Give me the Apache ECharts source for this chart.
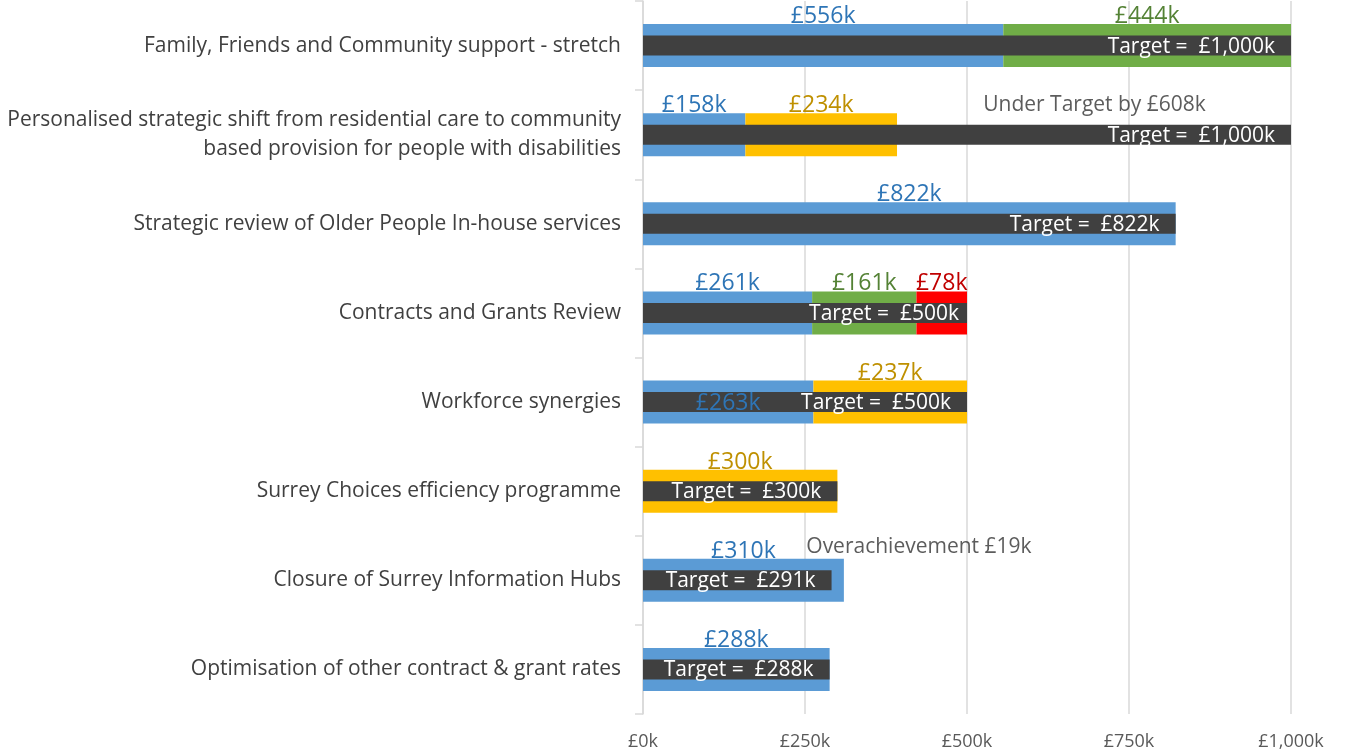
<!DOCTYPE html>
<html>
<head>
<meta charset="utf-8">
<script src="https://cdn.jsdelivr.net/npm/echarts@6/dist/echarts.min.js"></script>
<style>
  html, body { margin: 0; padding: 0; background: #fff; }
  #chart { width: 1368px; height: 753px; }
</style>
</head>
<body>
<div id="chart"></div>
<script>
const categories = [
    'Family, Friends and Community support - stretch',
    'Personalised strategic shift from residential care to community\nbased provision for people with disabilities',
    'Strategic review of Older People In-house services',
    'Contracts and Grants Review',
    'Workforce synergies',
    'Surrey Choices efficiency programme',
    'Closure of Surrey Information Hubs',
    'Optimisation of other contract & grant rates'
]
// values in £k, null where segment absent
const blueValues = [556, 158, 822, 261, 263, null, 310, 288]
const greenValues = [444, null, null, 161, null, null, null, null]
const amberValues = [null, 234, null, null, 237, 300, null, null]
const redValues = [null, null, null, 78, null, null, null, null]
const targetValues = [1000, 1000, 822, 500, 500, 300, 291, 288]
const xTicks = [0, 250, 500, 750, 1000]
// free text notes: [x value, category index, text]
const notes = [
    [525, 1, 'Under Target by £608k'],
    [252, 6, 'Overachievement £19k']
]

const font = 'Open Sans'
const chart = echarts.init(document.getElementById('chart'))

const fmtK = (v) => '£' + v.toLocaleString('en-GB') + 'k'

function segment(name, values, color, labelColor, insideIdx) {
    return {
        name: name,
        type: 'bar',
        stack: 'done',
        yAxisIndex: 0,
        barWidth: 43,
        z: 2,
        itemStyle: { color: color },
        label: {
            show: true,
            position: 'top',
            distance: -4,
            color: labelColor,
            fontFamily: font,
            fontSize: 23,
            formatter: (p) => fmtK(p.value)
        },
        data: values.map((v, i) => i === insideIdx
            ? { value: v, label: { position: 'inside', offset: [0, 1] } }
            : v)
    }
}

const option = {
    animation: false,
    textStyle: { fontFamily: font },
    grid: { left: 643, right: 77, top: 1, bottom: 39 },
    xAxis: {
        type: 'value',
        min: 0,
        max: 1000,
        interval: 250,
        axisLine: { show: false },
        axisTick: { show: false },
        splitLine: { lineStyle: { color: '#d9d9d9', width: 1.5 } },
        axisLabel: {
            color: '#595959',
            fontSize: 18,
            margin: 19,
            formatter: (v) => xTicks.includes(v) ? fmtK(v) : ''
        }
    },
    yAxis: [
        {
            type: 'category',
            inverse: true,
            data: categories,
            axisLine: { show: true, lineStyle: { color: '#d9d9d9', width: 1.5 } },
            axisTick: { show: true, length: 8, lineStyle: { color: '#d9d9d9', width: 1.5 } },
            axisLabel: {
                color: '#404040',
                fontSize: 21,
                margin: 22,
                lineHeight: 29,
                align: 'right'
            }
        },
        {
            type: 'category',
            inverse: true,
            data: categories,
            show: false
        }
    ],
    series: [
        segment('Delivered', blueValues, '#5b9bd5', '#2e75b6', 4),
        segment('Achieved', greenValues, '#70ad47', '#548235', -1),
        segment('Pending', amberValues, '#ffc000', '#bf9000', -1),
        segment('At risk', redValues, '#ff0000', '#c00000', -1),
        {
            name: 'Target',
            type: 'bar',
            yAxisIndex: 1,
            barWidth: 20,
            z: 2,
            itemStyle: { color: '#404040' },
            label: {
                show: true,
                position: 'insideRight',
                distance: 16,
                offset: [0, 1],
                color: '#ffffff',
                fontFamily: font,
                fontSize: 21,
                formatter: (p) => 'Target =  ' + fmtK(p.value)
            },
            data: targetValues.map((v, i) => i === 3
                ? { value: v, label: { distance: 8 } }
                : v)
        },
        {
            name: 'Notes',
            type: 'scatter',
            yAxisIndex: 0,
            symbolSize: 0,
            z: 5,
            label: {
                show: true,
                position: 'right',
                distance: 0,
                offset: [0, -33],
                color: '#333333',
                fontFamily: font,
                fontSize: 21,
                formatter: (p) => p.value[2]
            },
            data: notes.map((n, i) => ({
                value: [n[0], categories[n[1]], n[2]],
                label: i === 0 ? { offset: [0, -30] } : {}
            }))
        }
    ]
}

chart.setOption(option)
window.addEventListener('resize', () => chart.resize())
</script>
</body>
</html>
